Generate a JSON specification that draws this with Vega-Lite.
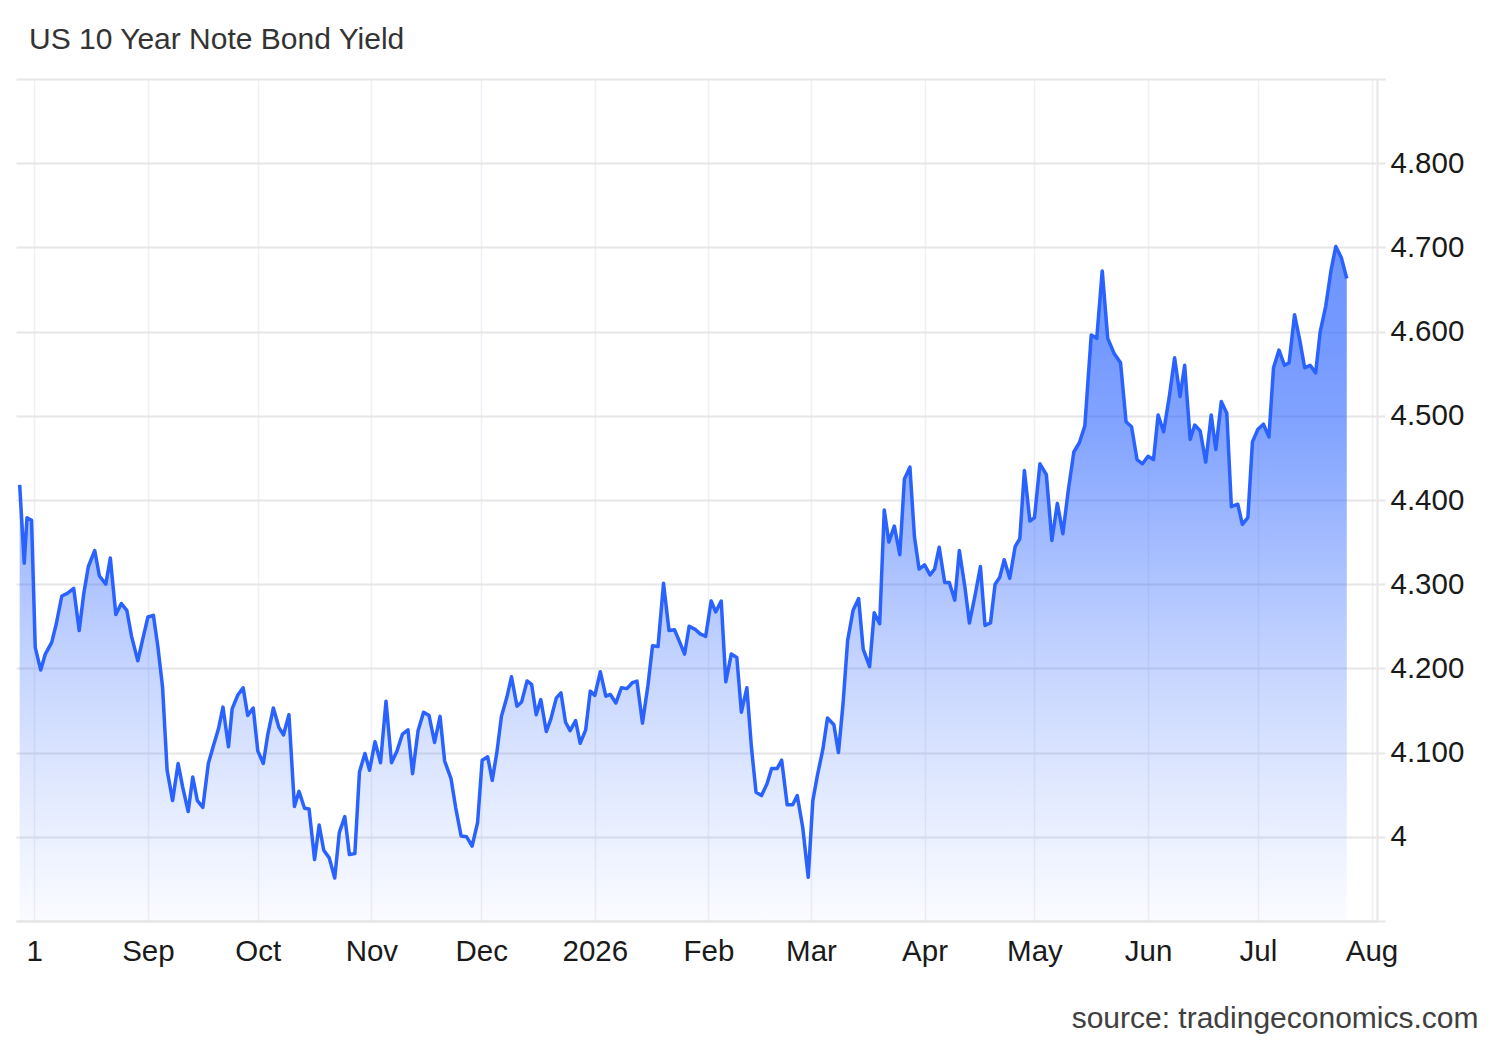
{
  "$schema": "https://vega.github.io/schema/vega-lite/v6.json",
  "width": 1361,
  "height": 842,
  "autosize": {"type": "none"},
  "padding": {"left": 16, "top": 79, "right": 123, "bottom": 119},
  "background": "#ffffff",
  "config": {"view": {"stroke": null}, "font": "Liberation Sans"},
  "title": {
    "text": "US 10 Year Note Bond Yield",
    "anchor": "start",
    "frame": "group",
    "dx": 13,
    "offset": -15,
    "baseline": "alphabetic",
    "fontSize": 30,
    "fontWeight": "normal",
    "font": "Liberation Sans",
    "color": "#333333"
  },
  "data": {
    "values": [
      {"date": "2025-07-28T00:00Z", "yield": 4.418},
      {"date": "2025-07-29T06:00Z", "yield": 4.325},
      {"date": "2025-07-30T00:00Z", "yield": 4.379},
      {"date": "2025-07-31T06:00Z", "yield": 4.376},
      {"date": "2025-08-01T06:00Z", "yield": 4.225},
      {"date": "2025-08-02T18:00Z", "yield": 4.198},
      {"date": "2025-08-04T00:00Z", "yield": 4.217},
      {"date": "2025-08-05T18:00Z", "yield": 4.231},
      {"date": "2025-08-07T00:00Z", "yield": 4.253},
      {"date": "2025-08-08T12:00Z", "yield": 4.286},
      {"date": "2025-08-10T00:00Z", "yield": 4.289},
      {"date": "2025-08-11T18:00Z", "yield": 4.295},
      {"date": "2025-08-13T06:00Z", "yield": 4.245},
      {"date": "2025-08-14T12:00Z", "yield": 4.289},
      {"date": "2025-08-15T18:00Z", "yield": 4.321},
      {"date": "2025-08-17T12:00Z", "yield": 4.340},
      {"date": "2025-08-18T18:00Z", "yield": 4.310},
      {"date": "2025-08-20T12:00Z", "yield": 4.300},
      {"date": "2025-08-21T18:00Z", "yield": 4.331},
      {"date": "2025-08-23T06:00Z", "yield": 4.264},
      {"date": "2025-08-24T18:00Z", "yield": 4.277},
      {"date": "2025-08-26T06:00Z", "yield": 4.269},
      {"date": "2025-08-27T12:00Z", "yield": 4.239},
      {"date": "2025-08-29T06:00Z", "yield": 4.209},
      {"date": "2025-08-30T12:00Z", "yield": 4.233},
      {"date": "2025-09-01T00:00Z", "yield": 4.261},
      {"date": "2025-09-02T12:00Z", "yield": 4.263},
      {"date": "2025-09-03T18:00Z", "yield": 4.225},
      {"date": "2025-09-05T00:00Z", "yield": 4.178},
      {"date": "2025-09-06T06:00Z", "yield": 4.079},
      {"date": "2025-09-07T18:00Z", "yield": 4.043},
      {"date": "2025-09-09T06:00Z", "yield": 4.087},
      {"date": "2025-09-10T12:00Z", "yield": 4.059},
      {"date": "2025-09-12T00:00Z", "yield": 4.030},
      {"date": "2025-09-13T06:00Z", "yield": 4.071},
      {"date": "2025-09-14T12:00Z", "yield": 4.043},
      {"date": "2025-09-16T00:00Z", "yield": 4.035},
      {"date": "2025-09-17T12:00Z", "yield": 4.087},
      {"date": "2025-09-18T18:00Z", "yield": 4.106},
      {"date": "2025-09-20T06:00Z", "yield": 4.128},
      {"date": "2025-09-21T12:00Z", "yield": 4.154},
      {"date": "2025-09-23T00:00Z", "yield": 4.107},
      {"date": "2025-09-24T00:00Z", "yield": 4.152},
      {"date": "2025-09-25T12:00Z", "yield": 4.168},
      {"date": "2025-09-27T00:00Z", "yield": 4.177},
      {"date": "2025-09-28T06:00Z", "yield": 4.144},
      {"date": "2025-09-29T18:00Z", "yield": 4.153},
      {"date": "2025-10-01T00:00Z", "yield": 4.102},
      {"date": "2025-10-02T12:00Z", "yield": 4.087},
      {"date": "2025-10-03T18:00Z", "yield": 4.122},
      {"date": "2025-10-05T06:00Z", "yield": 4.153},
      {"date": "2025-10-06T18:00Z", "yield": 4.130},
      {"date": "2025-10-08T00:00Z", "yield": 4.121},
      {"date": "2025-10-09T12:00Z", "yield": 4.145},
      {"date": "2025-10-11T00:00Z", "yield": 4.036},
      {"date": "2025-10-12T06:00Z", "yield": 4.054},
      {"date": "2025-10-13T18:00Z", "yield": 4.034},
      {"date": "2025-10-15T00:00Z", "yield": 4.033},
      {"date": "2025-10-16T12:00Z", "yield": 3.973},
      {"date": "2025-10-17T18:00Z", "yield": 4.014},
      {"date": "2025-10-19T00:00Z", "yield": 3.984},
      {"date": "2025-10-20T12:00Z", "yield": 3.975},
      {"date": "2025-10-22T00:00Z", "yield": 3.951},
      {"date": "2025-10-23T06:00Z", "yield": 4.005},
      {"date": "2025-10-24T18:00Z", "yield": 4.024},
      {"date": "2025-10-26T00:00Z", "yield": 3.979},
      {"date": "2025-10-27T12:00Z", "yield": 3.980},
      {"date": "2025-10-28T18:00Z", "yield": 4.077},
      {"date": "2025-10-30T06:00Z", "yield": 4.099},
      {"date": "2025-10-31T12:00Z", "yield": 4.079},
      {"date": "2025-11-02T00:00Z", "yield": 4.113},
      {"date": "2025-11-03T12:00Z", "yield": 4.088},
      {"date": "2025-11-05T00:00Z", "yield": 4.161},
      {"date": "2025-11-06T12:00Z", "yield": 4.088},
      {"date": "2025-11-08T00:00Z", "yield": 4.102},
      {"date": "2025-11-09T12:00Z", "yield": 4.122},
      {"date": "2025-11-11T00:00Z", "yield": 4.127},
      {"date": "2025-11-12T06:00Z", "yield": 4.075},
      {"date": "2025-11-13T18:00Z", "yield": 4.126},
      {"date": "2025-11-15T06:00Z", "yield": 4.148},
      {"date": "2025-11-16T18:00Z", "yield": 4.144},
      {"date": "2025-11-18T06:00Z", "yield": 4.112},
      {"date": "2025-11-19T18:00Z", "yield": 4.143},
      {"date": "2025-11-21T00:00Z", "yield": 4.090},
      {"date": "2025-11-22T18:00Z", "yield": 4.069},
      {"date": "2025-11-24T00:00Z", "yield": 4.035},
      {"date": "2025-11-25T12:00Z", "yield": 4.001},
      {"date": "2025-11-27T00:00Z", "yield": 4.000},
      {"date": "2025-11-28T12:00Z", "yield": 3.989},
      {"date": "2025-11-30T00:00Z", "yield": 4.017},
      {"date": "2025-12-01T06:00Z", "yield": 4.091},
      {"date": "2025-12-02T18:00Z", "yield": 4.095},
      {"date": "2025-12-04T00:00Z", "yield": 4.067},
      {"date": "2025-12-05T06:00Z", "yield": 4.100},
      {"date": "2025-12-06T12:00Z", "yield": 4.143},
      {"date": "2025-12-08T00:00Z", "yield": 4.166},
      {"date": "2025-12-09T06:00Z", "yield": 4.190},
      {"date": "2025-12-10T18:00Z", "yield": 4.155},
      {"date": "2025-12-12T00:00Z", "yield": 4.160},
      {"date": "2025-12-13T12:00Z", "yield": 4.185},
      {"date": "2025-12-14T18:00Z", "yield": 4.181},
      {"date": "2025-12-16T00:00Z", "yield": 4.145},
      {"date": "2025-12-17T06:00Z", "yield": 4.163},
      {"date": "2025-12-18T18:00Z", "yield": 4.125},
      {"date": "2025-12-20T00:00Z", "yield": 4.140},
      {"date": "2025-12-21T12:00Z", "yield": 4.165},
      {"date": "2025-12-22T18:00Z", "yield": 4.171},
      {"date": "2025-12-24T00:00Z", "yield": 4.136},
      {"date": "2025-12-25T06:00Z", "yield": 4.126},
      {"date": "2025-12-26T18:00Z", "yield": 4.138},
      {"date": "2025-12-28T00:00Z", "yield": 4.111},
      {"date": "2025-12-29T12:00Z", "yield": 4.127},
      {"date": "2025-12-30T18:00Z", "yield": 4.173},
      {"date": "2026-01-01T00:00Z", "yield": 4.168},
      {"date": "2026-01-02T12:00Z", "yield": 4.196},
      {"date": "2026-01-04T00:00Z", "yield": 4.167},
      {"date": "2026-01-05T06:00Z", "yield": 4.169},
      {"date": "2026-01-06T18:00Z", "yield": 4.159},
      {"date": "2026-01-08T06:00Z", "yield": 4.177},
      {"date": "2026-01-09T18:00Z", "yield": 4.176},
      {"date": "2026-01-11T06:00Z", "yield": 4.183},
      {"date": "2026-01-12T12:00Z", "yield": 4.185},
      {"date": "2026-01-14T00:00Z", "yield": 4.135},
      {"date": "2026-01-15T12:00Z", "yield": 4.180},
      {"date": "2026-01-16T18:00Z", "yield": 4.227},
      {"date": "2026-01-18T06:00Z", "yield": 4.226},
      {"date": "2026-01-19T18:00Z", "yield": 4.301},
      {"date": "2026-01-21T06:00Z", "yield": 4.245},
      {"date": "2026-01-22T18:00Z", "yield": 4.246},
      {"date": "2026-01-24T00:00Z", "yield": 4.233},
      {"date": "2026-01-25T12:00Z", "yield": 4.217},
      {"date": "2026-01-26T18:00Z", "yield": 4.250},
      {"date": "2026-01-28T12:00Z", "yield": 4.246},
      {"date": "2026-01-29T18:00Z", "yield": 4.241},
      {"date": "2026-01-31T06:00Z", "yield": 4.238},
      {"date": "2026-02-01T18:00Z", "yield": 4.280},
      {"date": "2026-02-03T00:00Z", "yield": 4.267},
      {"date": "2026-02-04T12:00Z", "yield": 4.280},
      {"date": "2026-02-05T18:00Z", "yield": 4.184},
      {"date": "2026-02-07T06:00Z", "yield": 4.217},
      {"date": "2026-02-08T18:00Z", "yield": 4.213},
      {"date": "2026-02-10T00:00Z", "yield": 4.148},
      {"date": "2026-02-11T12:00Z", "yield": 4.177},
      {"date": "2026-02-12T18:00Z", "yield": 4.106},
      {"date": "2026-02-14T00:00Z", "yield": 4.053},
      {"date": "2026-02-15T12:00Z", "yield": 4.049},
      {"date": "2026-02-17T00:00Z", "yield": 4.063},
      {"date": "2026-02-18T06:00Z", "yield": 4.081},
      {"date": "2026-02-19T18:00Z", "yield": 4.081},
      {"date": "2026-02-21T00:00Z", "yield": 4.091},
      {"date": "2026-02-22T12:00Z", "yield": 4.038},
      {"date": "2026-02-24T00:00Z", "yield": 4.038},
      {"date": "2026-02-25T06:00Z", "yield": 4.049},
      {"date": "2026-02-26T18:00Z", "yield": 4.011},
      {"date": "2026-02-28T06:00Z", "yield": 3.952},
      {"date": "2026-03-01T12:00Z", "yield": 4.043},
      {"date": "2026-03-02T18:00Z", "yield": 4.073},
      {"date": "2026-03-04T06:00Z", "yield": 4.104},
      {"date": "2026-03-05T12:00Z", "yield": 4.141},
      {"date": "2026-03-07T06:00Z", "yield": 4.133},
      {"date": "2026-03-08T12:00Z", "yield": 4.100},
      {"date": "2026-03-09T18:00Z", "yield": 4.158},
      {"date": "2026-03-11T00:00Z", "yield": 4.233},
      {"date": "2026-03-12T12:00Z", "yield": 4.269},
      {"date": "2026-03-14T00:00Z", "yield": 4.283},
      {"date": "2026-03-15T06:00Z", "yield": 4.223},
      {"date": "2026-03-17T00:00Z", "yield": 4.202},
      {"date": "2026-03-18T06:00Z", "yield": 4.266},
      {"date": "2026-03-19T18:00Z", "yield": 4.253},
      {"date": "2026-03-21T00:00Z", "yield": 4.388},
      {"date": "2026-03-22T06:00Z", "yield": 4.350},
      {"date": "2026-03-23T18:00Z", "yield": 4.369},
      {"date": "2026-03-25T06:00Z", "yield": 4.335},
      {"date": "2026-03-26T12:00Z", "yield": 4.425},
      {"date": "2026-03-28T00:00Z", "yield": 4.439},
      {"date": "2026-03-29T06:00Z", "yield": 4.356},
      {"date": "2026-03-30T12:00Z", "yield": 4.318},
      {"date": "2026-04-01T00:00Z", "yield": 4.323},
      {"date": "2026-04-02T12:00Z", "yield": 4.311},
      {"date": "2026-04-03T18:00Z", "yield": 4.318},
      {"date": "2026-04-05T00:00Z", "yield": 4.344},
      {"date": "2026-04-06T12:00Z", "yield": 4.302},
      {"date": "2026-04-07T18:00Z", "yield": 4.302},
      {"date": "2026-04-09T06:00Z", "yield": 4.281},
      {"date": "2026-04-10T12:00Z", "yield": 4.340},
      {"date": "2026-04-12T00:00Z", "yield": 4.297},
      {"date": "2026-04-13T06:00Z", "yield": 4.254},
      {"date": "2026-04-14T18:00Z", "yield": 4.286},
      {"date": "2026-04-16T06:00Z", "yield": 4.321},
      {"date": "2026-04-17T12:00Z", "yield": 4.251},
      {"date": "2026-04-19T00:00Z", "yield": 4.254},
      {"date": "2026-04-20T06:00Z", "yield": 4.300},
      {"date": "2026-04-21T12:00Z", "yield": 4.308},
      {"date": "2026-04-22T18:00Z", "yield": 4.329},
      {"date": "2026-04-24T06:00Z", "yield": 4.307},
      {"date": "2026-04-25T18:00Z", "yield": 4.345},
      {"date": "2026-04-27T00:00Z", "yield": 4.354},
      {"date": "2026-04-28T06:00Z", "yield": 4.435},
      {"date": "2026-04-29T18:00Z", "yield": 4.375},
      {"date": "2026-05-01T00:00Z", "yield": 4.379},
      {"date": "2026-05-02T12:00Z", "yield": 4.443},
      {"date": "2026-05-04T06:00Z", "yield": 4.430},
      {"date": "2026-05-05T18:00Z", "yield": 4.352},
      {"date": "2026-05-07T06:00Z", "yield": 4.396},
      {"date": "2026-05-08T18:00Z", "yield": 4.360},
      {"date": "2026-05-10T06:00Z", "yield": 4.412},
      {"date": "2026-05-11T18:00Z", "yield": 4.457},
      {"date": "2026-05-13T06:00Z", "yield": 4.468},
      {"date": "2026-05-14T18:00Z", "yield": 4.488},
      {"date": "2026-05-16T12:00Z", "yield": 4.596},
      {"date": "2026-05-18T00:00Z", "yield": 4.592},
      {"date": "2026-05-19T12:00Z", "yield": 4.672},
      {"date": "2026-05-21T00:00Z", "yield": 4.592},
      {"date": "2026-05-22T18:00Z", "yield": 4.574},
      {"date": "2026-05-24T12:00Z", "yield": 4.563},
      {"date": "2026-05-26T00:00Z", "yield": 4.493},
      {"date": "2026-05-27T12:00Z", "yield": 4.487},
      {"date": "2026-05-29T00:00Z", "yield": 4.448},
      {"date": "2026-05-30T12:00Z", "yield": 4.443},
      {"date": "2026-06-01T00:00Z", "yield": 4.452},
      {"date": "2026-06-02T12:00Z", "yield": 4.448},
      {"date": "2026-06-03T18:00Z", "yield": 4.501},
      {"date": "2026-06-05T06:00Z", "yield": 4.481},
      {"date": "2026-06-06T18:00Z", "yield": 4.521},
      {"date": "2026-06-08T06:00Z", "yield": 4.569},
      {"date": "2026-06-09T18:00Z", "yield": 4.523},
      {"date": "2026-06-11T00:00Z", "yield": 4.560},
      {"date": "2026-06-12T12:00Z", "yield": 4.472},
      {"date": "2026-06-13T18:00Z", "yield": 4.489},
      {"date": "2026-06-15T06:00Z", "yield": 4.482},
      {"date": "2026-06-16T18:00Z", "yield": 4.445},
      {"date": "2026-06-18T06:00Z", "yield": 4.501},
      {"date": "2026-06-19T12:00Z", "yield": 4.460},
      {"date": "2026-06-21T00:00Z", "yield": 4.517},
      {"date": "2026-06-22T12:00Z", "yield": 4.503},
      {"date": "2026-06-23T18:00Z", "yield": 4.392},
      {"date": "2026-06-25T12:00Z", "yield": 4.395},
      {"date": "2026-06-26T18:00Z", "yield": 4.371},
      {"date": "2026-06-28T06:00Z", "yield": 4.379},
      {"date": "2026-06-29T12:00Z", "yield": 4.469},
      {"date": "2026-07-01T00:00Z", "yield": 4.484},
      {"date": "2026-07-02T12:00Z", "yield": 4.490},
      {"date": "2026-07-04T00:00Z", "yield": 4.475},
      {"date": "2026-07-05T06:00Z", "yield": 4.557},
      {"date": "2026-07-06T18:00Z", "yield": 4.578},
      {"date": "2026-07-08T06:00Z", "yield": 4.560},
      {"date": "2026-07-09T12:00Z", "yield": 4.563},
      {"date": "2026-07-11T00:00Z", "yield": 4.620},
      {"date": "2026-07-12T12:00Z", "yield": 4.588},
      {"date": "2026-07-13T18:00Z", "yield": 4.557},
      {"date": "2026-07-15T06:00Z", "yield": 4.560},
      {"date": "2026-07-16T18:00Z", "yield": 4.551},
      {"date": "2026-07-18T00:00Z", "yield": 4.600},
      {"date": "2026-07-19T12:00Z", "yield": 4.630},
      {"date": "2026-07-21T00:00Z", "yield": 4.674},
      {"date": "2026-07-22T06:00Z", "yield": 4.701},
      {"date": "2026-07-23T18:00Z", "yield": 4.688},
      {"date": "2026-07-25T06:00Z", "yield": 4.663}
    ]
  },
  "mark": {
    "type": "area",
    "interpolate": "linear",
    "line": {"color": "#2962ff", "strokeWidth": 3.5, "strokeJoin": "round"},
    "color": {
      "gradient": "linear",
      "x1": 0, "y1": 0, "x2": 0, "y2": 1,
      "stops": [
        {"offset": 0, "color": "rgba(41,98,255,0.97)"},
        {"offset": 0.15, "color": "rgba(41,98,255,0.92)"},
        {"offset": 0.28, "color": "rgba(41,98,255,0.82)"},
        {"offset": 0.43, "color": "rgba(41,98,255,0.62)"},
        {"offset": 0.58, "color": "rgba(41,98,255,0.43)"},
        {"offset": 0.73, "color": "rgba(41,98,255,0.27)"},
        {"offset": 0.88, "color": "rgba(41,98,255,0.13)"},
        {"offset": 1, "color": "rgba(41,98,255,0.03)"}
      ]
    }
  },
  "encoding": {
    "x": {
      "field": "date",
      "type": "temporal",
      "scale": {
        "type": "utc",
        "nice": false,
        "domain": [
          {"year": 2025, "month": "jul", "date": 27, "utc": true},
          {"year": 2026, "month": "aug", "date": 2, "hours": 12, "utc": true}
        ]
      },
      "axis": {
        "values": [
          {"year": 2025, "month": "aug", "date": 1, "utc": true},
          {"year": 2025, "month": "sep", "date": 1, "utc": true},
          {"year": 2025, "month": "oct", "date": 1, "utc": true},
          {"year": 2025, "month": "nov", "date": 1, "utc": true},
          {"year": 2025, "month": "dec", "date": 1, "utc": true},
          {"year": 2026, "month": "jan", "date": 1, "utc": true},
          {"year": 2026, "month": "feb", "date": 1, "utc": true},
          {"year": 2026, "month": "mar", "date": 1, "utc": true},
          {"year": 2026, "month": "apr", "date": 1, "utc": true},
          {"year": 2026, "month": "may", "date": 1, "utc": true},
          {"year": 2026, "month": "jun", "date": 1, "utc": true},
          {"year": 2026, "month": "jul", "date": 1, "utc": true},
          {"year": 2026, "month": "aug", "date": 1, "utc": true}
        ],
        "labelExpr": "utcmonth(datum.value) == 0 ? utcFormat(datum.value, '%Y') : (utcyear(datum.value) == 2025 && utcmonth(datum.value) == 7 ? '1' : utcFormat(datum.value, '%b'))",
        "grid": true,
        "gridColor": "#edf0f5",
        "gridWidth": 1.5,
        "ticks": false,
        "tickSize": 0,
        "domain": true,
        "domainColor": "#e6e6e6",
        "domainWidth": 2,
        "labelFont": "Liberation Sans",
        "labelFontSize": 29.5,
        "labelColor": "#1a1a1a",
        "labelPadding": 39,
        "labelBaseline": "alphabetic",
        "labelFlush": false,
        "labelOverlap": false,
        "title": "source: tradingeconomics.com",
        "titleFont": "Liberation Sans",
        "titleFontSize": 30,
        "titleFontWeight": "normal",
        "titleColor": "#404040",
        "titleX": 1462,
        "titleY": 106,
        "titleAlign": "right",
        "titleBaseline": "alphabetic"
      }
    },
    "y": {
      "field": "yield",
      "type": "quantitative",
      "scale": {"domain": [3.9, 4.9], "zero": false, "nice": false},
      "axis": {
        "orient": "right",
        "title": null,
        "values": [3.9, 4.0, 4.1, 4.2, 4.3, 4.4, 4.5, 4.6, 4.7, 4.8, 4.9],
        "labelExpr": "datum.value < 3.95 || datum.value > 4.85 ? '' : (abs(datum.value - 4) < 0.001 ? '4' : format(datum.value, '.3f'))",
        "grid": true,
        "gridColor": "#e6e6e6",
        "gridWidth": 2,
        "domain": true,
        "domainColor": "#e6e6e6",
        "domainWidth": 2,
        "ticks": true,
        "tickSize": 8,
        "tickColor": "#e6e6e6",
        "tickWidth": 2,
        "labelPadding": 5,
        "labelFont": "Liberation Sans",
        "labelFontSize": 29.5,
        "labelColor": "#1a1a1a",
        "labelBaseline": "middle",
        "labelFlush": false,
        "labelOverlap": false
      }
    },
    "y2": {"datum": 3.9}
  }
}
